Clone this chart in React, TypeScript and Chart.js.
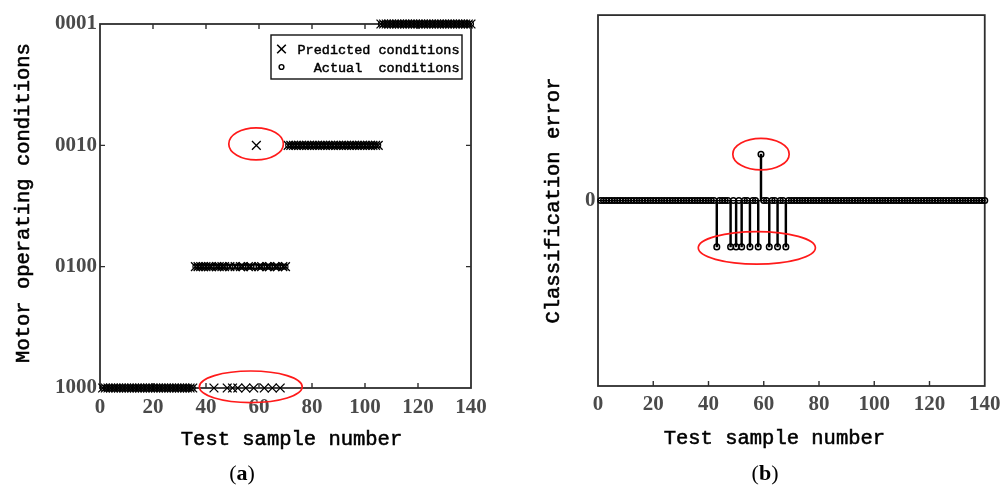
import React, { useEffect, useRef } from 'react';
import { Chart, registerables } from 'chart.js';

Chart.register(...registerables);

// ---------------- data ----------------
const sampleNumbers = [
  1, 2, 3, 4, 5, 6, 7, 8, 9, 10, 11, 12, 13, 14, 15, 16, 17, 18, 19, 20,
  21, 22, 23, 24, 25, 26, 27, 28, 29, 30, 31, 32, 33, 34, 35, 36, 37, 38, 39, 40,
  41, 42, 43, 44, 45, 46, 47, 48, 49, 50, 51, 52, 53, 54, 55, 56, 57, 58, 59, 60,
  61, 62, 63, 64, 65, 66, 67, 68, 69, 70, 71, 72, 73, 74, 75, 76, 77, 78, 79, 80,
  81, 82, 83, 84, 85, 86, 87, 88, 89, 90, 91, 92, 93, 94, 95, 96, 97, 98, 99, 100,
  101, 102, 103, 104, 105, 106, 107, 108, 109, 110, 111, 112, 113, 114, 115, 116, 117, 118, 119, 120,
  121, 122, 123, 124, 125, 126, 127, 128, 129, 130, 131, 132, 133, 134, 135, 136, 137, 138, 139, 140,
];

// condition index: 1 = 1000, 2 = 0100, 3 = 0010, 4 = 0001
const actualConditions = [
  1, 1, 1, 1, 1, 1, 1, 1, 1, 1, 1, 1, 1, 1, 1, 1, 1, 1, 1, 1, 1, 1, 1, 1, 1, 1, 1, 1, 1, 1, 1, 1, 1, 1, 1,
  2, 2, 2, 2, 2, 2, 2, 2, 2, 2, 2, 2, 2, 2, 2, 2, 2, 2, 2, 2, 2, 2, 2, 2, 2, 2, 2, 2, 2, 2, 2, 2, 2, 2, 2,
  3, 3, 3, 3, 3, 3, 3, 3, 3, 3, 3, 3, 3, 3, 3, 3, 3, 3, 3, 3, 3, 3, 3, 3, 3, 3, 3, 3, 3, 3, 3, 3, 3, 3, 3,
  4, 4, 4, 4, 4, 4, 4, 4, 4, 4, 4, 4, 4, 4, 4, 4, 4, 4, 4, 4, 4, 4, 4, 4, 4, 4, 4, 4, 4, 4, 4, 4, 4, 4, 4,
];

const predictedConditions = [
  1, 1, 1, 1, 1, 1, 1, 1, 1, 1, 1, 1, 1, 1, 1, 1, 1, 1, 1, 1, 1, 1, 1, 1, 1, 1, 1, 1, 1, 1, 1, 1, 1, 1, 1,
  2, 2, 2, 2, 2, 2, 2, 1, 2, 2,
  2, 2, 1, 2, 1, 2, 1, 2, 2, 1,
  2, 2, 1, 3, 2, 2, 1, 2, 2, 1,
  2, 2, 1, 2, 2,
  3, 3, 3, 3, 3, 3, 3, 3, 3, 3, 3, 3, 3, 3, 3, 3, 3, 3, 3, 3, 3, 3, 3, 3, 3, 3, 3, 3, 3, 3, 3, 3, 3, 3, 3,
  4, 4, 4, 4, 4, 4, 4, 4, 4, 4, 4, 4, 4, 4, 4, 4, 4, 4, 4, 4, 4, 4, 4, 4, 4, 4, 4, 4, 4, 4, 4, 4, 4, 4, 4,
];

const classificationError = [
  0, 0, 0, 0, 0, 0, 0, 0, 0, 0, 0, 0, 0, 0, 0, 0, 0, 0, 0, 0, 0, 0, 0, 0, 0, 0, 0, 0, 0, 0, 0, 0, 0, 0, 0,
  0, 0, 0, 0, 0, 0, 0, -1, 0, 0,
  0, 0, -1, 0, -1, 0, -1, 0, 0, -1,
  0, 0, -1, 1, 0, 0, -1, 0, 0, -1,
  0, 0, -1, 0, 0,
  0, 0, 0, 0, 0, 0, 0, 0, 0, 0, 0, 0, 0, 0, 0, 0, 0, 0, 0, 0, 0, 0, 0, 0, 0, 0, 0, 0, 0, 0, 0, 0, 0, 0, 0,
  0, 0, 0, 0, 0, 0, 0, 0, 0, 0, 0, 0, 0, 0, 0, 0, 0, 0, 0, 0, 0, 0, 0, 0, 0, 0, 0, 0, 0, 0, 0, 0, 0, 0, 0,
];

const xTickValues = [0, 20, 40, 60, 80, 100, 120, 140];
const conditionTickValues = [1, 2, 3, 4];
const conditionTickLabels = ['1000', '0100', '0010', '0001'];
const errorTickValues = [0];
const errorTickLabels = ['0'];

// red highlight ellipses (data units)
const leftHighlights = [
  { x: 58.9, y: 3.012, rx: 10.3, ry: 0.132 },
  { x: 56.9, y: 1.01, rx: 19.4, ry: 0.13 },
];
const rightHighlights = [
  { x: 59.0, y: 1.0, rx: 10.2, ry: 0.34 },
  { x: 57.5, y: -1.02, rx: 21.2, ry: 0.35 },
];

// ---------------- styles ----------------
const MONO = '"Liberation Mono", "DejaVu Sans Mono", monospace';
const SERIF = '"Liberation Serif", "DejaVu Serif", serif';
const TICK_COLOR = '#4a4a4a';
const AXIS_COLOR = '#2e2e2e';
const TITLE_FONT = `20.5px ${MONO}`;

type FrameOpts = {
  topTicks: boolean;
  sideTicks: number[];
  baseline: boolean;
  highlights: { x: number; y: number; rx: number; ry: number }[];
  legend: boolean;
  xTitle: { text: string; dx: number; y: number };
  yTitle: { text: string; x: number; dy: number };
};

function heavyText(ctx: CanvasRenderingContext2D, text: string, x: number, y: number, w: number) {
  ctx.fillText(text, x, y);
  ctx.lineWidth = w;
  ctx.strokeStyle = '#000';
  ctx.strokeText(text, x, y);
}

function makeFramePlugin(o: FrameOpts) {
  return {
    id: 'matlabFrame',
    beforeDatasetsDraw(chart: any) {
      const { ctx, chartArea } = chart;
      const { left, right, top, bottom } = chartArea;
      const xs = chart.scales.x;
      const ys = chart.scales.y;
      ctx.save();
      if (o.baseline) {
        const y0 = ys.getPixelForValue(0);
        ctx.strokeStyle = '#000';
        ctx.lineWidth = 1.3;
        ctx.beginPath();
        ctx.moveTo(left, y0);
        ctx.lineTo(right, y0);
        ctx.stroke();
      }
      ctx.strokeStyle = AXIS_COLOR;
      ctx.lineWidth = 1.8;
      ctx.strokeRect(left, top, right - left, bottom - top);
      ctx.lineWidth = 1.4;
      const tl = 5;
      ctx.beginPath();
      xTickValues.forEach((v) => {
        const px = xs.getPixelForValue(v);
        if (px <= left + 1 || px >= right - 1) return;
        ctx.moveTo(px, bottom);
        ctx.lineTo(px, bottom - tl);
        if (o.topTicks) {
          ctx.moveTo(px, top);
          ctx.lineTo(px, top + tl);
        }
      });
      o.sideTicks.forEach((v) => {
        const py = ys.getPixelForValue(v);
        ctx.moveTo(left, py);
        ctx.lineTo(left + tl, py);
        ctx.moveTo(right, py);
        ctx.lineTo(right - tl, py);
      });
      ctx.stroke();

      // axis titles
      ctx.fillStyle = '#000';
      ctx.font = TITLE_FONT;
      ctx.textAlign = 'center';
      ctx.textBaseline = 'middle';
      heavyText(ctx, o.xTitle.text, (left + right) / 2 + o.xTitle.dx, o.xTitle.y, 0.55);
      ctx.translate(o.yTitle.x, (top + bottom) / 2 + o.yTitle.dy);
      ctx.rotate(-Math.PI / 2);
      heavyText(ctx, o.yTitle.text, 0, 0, 0.55);
      ctx.restore();
    },
    afterDatasetsDraw(chart: any) {
      const { ctx, chartArea } = chart;
      const xs = chart.scales.x;
      const ys = chart.scales.y;
      ctx.save();
      ctx.strokeStyle = '#ff1a1a';
      ctx.lineWidth = 1.7;
      o.highlights.forEach((h) => {
        const cx = xs.getPixelForValue(h.x);
        const cy = ys.getPixelForValue(h.y);
        const rx = Math.abs(xs.getPixelForValue(h.x + h.rx) - cx);
        const ry = Math.abs(ys.getPixelForValue(h.y + h.ry) - cy);
        ctx.beginPath();
        ctx.ellipse(cx, cy, rx, ry, 0, 0, Math.PI * 2);
        ctx.stroke();
      });
      if (o.legend) {
        const w = 191;
        const h = 44;
        const lx = chartArea.right - 9 - w;
        const ly = chartArea.top + 11;
        ctx.fillStyle = '#fff';
        ctx.fillRect(lx, ly, w, h);
        ctx.strokeStyle = '#111';
        ctx.lineWidth = 1.4;
        ctx.strokeRect(lx, ly, w, h);
        const sx = lx + 10.5;
        const r1 = ly + 14;
        const r2 = ly + 32;
        // cross symbol
        ctx.strokeStyle = '#000';
        ctx.lineWidth = 1.6;
        ctx.beginPath();
        ctx.moveTo(sx - 4.3, r1 - 4.3);
        ctx.lineTo(sx + 4.3, r1 + 4.3);
        ctx.moveTo(sx + 4.3, r1 - 4.3);
        ctx.lineTo(sx - 4.3, r1 + 4.3);
        ctx.stroke();
        // circle symbol
        ctx.lineWidth = 1.4;
        ctx.beginPath();
        ctx.arc(sx, r2, 2.4, 0, Math.PI * 2);
        ctx.stroke();
        ctx.fillStyle = '#000';
        ctx.font = `13.5px ${MONO}`;
        ctx.textBaseline = 'middle';
        ctx.textAlign = 'left';
        const datasets = chart.data.datasets;
        heavyText(ctx, datasets[0].label, lx + 26.5, r1 + 1, 0.45);
        heavyText(ctx, '  ' + datasets[1].label.replace(' ', '  '), lx + 26.5, r2 + 1, 0.45);
      }
      ctx.restore();
    },
  };
}

const tickFont = { family: SERIF, size: 21, weight: 'bold' as const };

function ConditionsChart() {
  const ref = useRef<HTMLCanvasElement>(null);
  useEffect(() => {
    if (!ref.current) return;
    const chart = new Chart(ref.current, {
      type: 'scatter',
      data: {
        datasets: [
          {
            label: 'Predicted conditions',
            data: sampleNumbers.map((s, i) => ({ x: s, y: predictedConditions[i] })),
            pointStyle: 'crossRot',
            pointRadius: 6.2,
            borderColor: '#000',
            borderWidth: 1.3,
            backgroundColor: 'transparent',
            clip: false,
          } as any,
          {
            label: 'Actual conditions',
            data: sampleNumbers.map((s, i) => ({ x: s, y: actualConditions[i] })),
            pointStyle: 'circle',
            pointRadius: 2.5,
            borderColor: '#000',
            borderWidth: 1.1,
            backgroundColor: 'transparent',
            clip: false,
          } as any,
        ],
      },
      options: {
        animation: false,
        responsive: false,
        events: [],
        layout: { padding: { left: 0, right: 29, top: 24, bottom: 0 } },
        plugins: { legend: { display: false }, tooltip: { enabled: false } },
        scales: {
          x: {
            type: 'linear',
            min: 0,
            max: 140,
            afterBuildTicks: (s: any) => {
              s.ticks = xTickValues.map((v) => ({ value: v }));
            },
            afterFit: (s: any) => {
              s.height = 98;
            },
            grid: { display: false, drawTicks: false },
            border: { display: false },
            ticks: { font: tickFont, color: TICK_COLOR, padding: 7, maxRotation: 0, autoSkip: false },
            title: { display: false, text: 'Test sample number' },
          },
          y: {
            type: 'linear',
            min: 1,
            max: 4,
            afterBuildTicks: (s: any) => {
              s.ticks = conditionTickValues.map((v) => ({ value: v }));
            },
            afterFit: (s: any) => {
              s.width = 100;
            },
            grid: { display: false, drawTicks: false },
            border: { display: false },
            ticks: {
              font: tickFont,
              color: TICK_COLOR,
              padding: 3,
              autoSkip: false,
              callback: (v: any) => conditionTickLabels[conditionTickValues.indexOf(Number(v))],
            },
            title: { display: false, text: 'Motor operating conditions' },
          },
        },
      } as any,
      plugins: [
        makeFramePlugin({
          topTicks: true,
          sideTicks: [2, 3],
          baseline: false,
          highlights: leftHighlights,
          legend: true,
          xTitle: { text: 'Test sample number', dx: 6, y: 440 },
          yTitle: { text: 'Motor operating conditions', x: 24, dy: -3 },
        }),
      ],
    });
    return () => chart.destroy();
  }, []);
  return <canvas ref={ref} width={500} height={486} style={{ display: 'block', width: 500, height: 486 }} />;
}

function ErrorChart() {
  const ref = useRef<HTMLCanvasElement>(null);
  useEffect(() => {
    if (!ref.current) return;
    const chart = new Chart(ref.current, {
      type: 'scatter',
      data: {
        datasets: [
          {
            label: 'Classification error',
            data: sampleNumbers.map((s, i) => ({ x: s, y: classificationError[i] })),
            pointStyle: 'circle',
            pointRadius: 2.8,
            borderColor: '#000',
            borderWidth: 1.5,
            backgroundColor: 'transparent',
            clip: false,
          } as any,
          {
            type: 'bar',
            label: 'stem',
            data: sampleNumbers.map((s, i) => ({ x: s, y: classificationError[i] })),
            backgroundColor: '#000',
            borderWidth: 0,
            barThickness: 1.8,
            clip: false,
          } as any,
        ],
      },
      options: {
        animation: false,
        responsive: false,
        events: [],
        layout: { padding: { left: 0, right: 19, top: 12.5, bottom: 0 } },
        plugins: { legend: { display: false }, tooltip: { enabled: false } },
        scales: {
          x: {
            type: 'linear',
            min: 0,
            max: 140,
            offset: false,
            afterBuildTicks: (s: any) => {
              s.ticks = xTickValues.map((v) => ({ value: v }));
            },
            afterFit: (s: any) => {
              s.height = 100;
            },
            grid: { display: false, drawTicks: false },
            border: { display: false },
            ticks: { font: tickFont, color: TICK_COLOR, padding: 5.5, maxRotation: 0, autoSkip: false },
            title: { display: false, text: 'Test sample number' },
          },
          y: {
            type: 'linear',
            min: -4,
            max: 4,
            afterBuildTicks: (s: any) => {
              s.ticks = errorTickValues.map((v) => ({ value: v }));
            },
            afterFit: (s: any) => {
              s.width = 98;
            },
            grid: { display: false, drawTicks: false },
            border: { display: false },
            ticks: {
              font: tickFont,
              color: TICK_COLOR,
              padding: 2.5,
              autoSkip: false,
              callback: (v: any) => errorTickLabels[errorTickValues.indexOf(Number(v))],
            },
            title: { display: false, text: 'Classification error' },
          },
        },
      } as any,
      plugins: [
        makeFramePlugin({
          topTicks: false,
          sideTicks: [],
          baseline: true,
          highlights: rightHighlights,
          legend: false,
          xTitle: { text: 'Test sample number', dx: -17, y: 439 },
          yTitle: { text: 'Classification error', x: 54, dy: 0 },
        }),
      ],
    });
    return () => chart.destroy();
  }, []);
  return <canvas ref={ref} width={506} height={486} style={{ display: 'block', width: 506, height: 486 }} />;
}

const captionStyle: React.CSSProperties = {
  position: 'absolute',
  top: 461,
  width: 60,
  textAlign: 'center',
  fontFamily: SERIF,
  fontSize: 22,
  lineHeight: '24px',
  color: '#000',
};

export default function App() {
  return (
    <div style={{ position: 'absolute', left: 0, top: 0, width: 1006, height: 486, background: '#fff', overflow: 'hidden' }}>
      <div style={{ position: 'absolute', left: 0, top: 0 }}>
        <ConditionsChart />
      </div>
      <div style={{ position: 'absolute', left: 500, top: 0 }}>
        <ErrorChart />
      </div>
      <div style={{ ...captionStyle, left: 212 }}>
        (<b>a</b>)
      </div>
      <div style={{ ...captionStyle, left: 735 }}>
        (<b>b</b>)
      </div>
    </div>
  );
}
